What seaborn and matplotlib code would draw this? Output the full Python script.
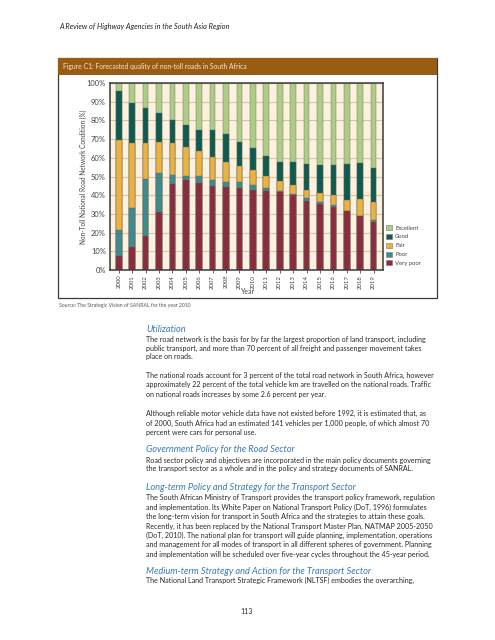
import numpy as np
import pandas as pd
import matplotlib
matplotlib.use("Agg")
import matplotlib.pyplot as plt
import seaborn as sns
from matplotlib.patches import Rectangle, Patch

# ---------------- data ----------------
years = [str(y) for y in range(2000, 2020)]
very_poor = [7.5, 12.5, 18.4, 30.9, 46.1, 48.2, 46.6, 45.0, 44.5, 43.9,
             42.9, 42.1, 41.8, 40.2, 37.0, 35.5, 33.8, 31.4, 28.9, 25.7]
poor = [13.8, 20.7, 30.0, 20.9, 4.6, 2.2, 3.9, 3.2, 2.6, 3.1,
        2.5, 1.8, 0.5, 0.5, 1.6, 1.1, 1.0, 0.2, 0.2, 1.3]
fair = [48.4, 34.7, 19.5, 16.8, 17.2, 15.5, 13.4, 12.3, 10.9, 8.4,
        8.0, 6.5, 5.2, 5.0, 4.4, 4.8, 5.2, 6.1, 8.8, 9.4]
good = [26.1, 21.6, 18.7, 15.2, 12.3, 11.6, 11.1, 14.5, 14.7, 13.2,
        12.1, 10.3, 10.5, 11.8, 13.8, 14.5, 16.1, 19.1, 19.2, 17.9]
excellent = [4.2, 10.5, 13.4, 16.2, 19.8, 22.5, 25.0, 25.0, 27.3, 31.4,
             34.5, 39.3, 42.0, 42.5, 43.2, 44.1, 43.9, 43.2, 42.9, 45.7]
categories = ["Very poor", "Poor", "Fair", "Good", "Excellent"]
y_ticks = [0, 10, 20, 30, 40, 50, 60, 70, 80, 90, 100]
y_tick_labels = [f"{v}%" for v in y_ticks]

colors = {"Very poor": "#8C2B3B", "Poor": "#3F8A8B", "Fair": "#ECB23E",
          "Good": "#0F5B4F", "Excellent": "#AFCC86"}

df = pd.DataFrame({"Year": years, "Very poor": very_poor, "Poor": poor,
                   "Fair": fair, "Good": good, "Excellent": excellent})
cum = df[categories].cumsum(axis=1)

# ---------------- figure ----------------
W, H = 495, 640
sns.set_theme(style="white")
plt.rcParams["font.family"] = ["Lato", "DejaVu Sans"]
fig = plt.figure(figsize=(W / 100, H / 100), dpi=100)
fig.patch.set_facecolor("white")
renderer = fig.canvas.get_renderer()


def fx(x):
    return x / W


def fy(y):
    return 1 - y / H


def fit_size(s, target_px, **kw):
    t = fig.text(0, 0, s, fontsize=10, **kw)
    w = t.get_window_extent(renderer).width
    t.remove()
    return 10 * target_px / w


# figure frame and title bar
fig.add_artist(Rectangle((fx(58), fy(298)), (437 - 58) / W, (298 - 58) / H,
                         transform=fig.transFigure, fill=False,
                         edgecolor="#3a3a3a", lw=0.9))
fig.add_artist(Rectangle((fx(58), fy(75)), (437 - 58) / W, 17 / H,
                         transform=fig.transFigure, facecolor="#9A5B13",
                         edgecolor="none"))

title = "Figure C1: Forecasted quality of non-toll roads in South Africa"
fig.text(fx(63), fy(66.5), title, color="#F6E8CC",
         fontsize=fit_size(title, 184), va="center", ha="left")

header = "A Review of Highway Agencies in the South Asia Region"
fig.text(fx(59), fy(26), header, color="#222222", style="italic",
         fontsize=fit_size(header, 169, style="italic"), va="center", ha="left")

# ---------------- chart ----------------
ax = fig.add_axes([fx(110), fy(270), 273 / W, 187 / H])
ax.set_facecolor("#FBF1DE")
for cat in reversed(categories):
    sns.barplot(x=df["Year"], y=cum[cat], color=colors[cat], saturation=1,
                width=0.42, edgecolor="#666666", linewidth=0.3, ax=ax)

ax.set_ylim(0, 100)
ax.set_xlim(-0.65, 19.7)
ax.set_axisbelow(True)
ax.yaxis.grid(True, color="#D8C6A0", lw=0.8)
ax.set_yticks(y_ticks)
ax.set_yticklabels(y_tick_labels)
for sp in ax.spines.values():
    sp.set_visible(True)
    sp.set_color("#3a3a3a")
    sp.set_linewidth(1.1)

ytick_fs = fit_size("100%", 19)
ax.tick_params(axis="y", length=0, pad=3, labelsize=ytick_fs, labelcolor="#444444")
xtick_fs = fit_size("2000", 14)
ax.tick_params(axis="x", rotation=90, labelsize=xtick_fs, length=2, width=0.6,
               pad=1.5, labelcolor="#444444", color="#444444", bottom=True)

ylab = "Non-Toll National Road Network Condition (%)"
ax.set_ylabel(ylab, fontsize=fit_size(ylab, 136), color="#444444")
ax.yaxis.set_label_coords((83 - 110) / 273, 0.5)
ax.yaxis.label.set_va("center")
ax.set_xlabel("Year", fontsize=fit_size("Year", 14), color="#444444")
ax.xaxis.set_label_coords((248 - 110) / 273, -(292 - 270) / 187)
ax.xaxis.label.set_va("center")

handles = [Patch(facecolor=colors[c], edgecolor="#777777", linewidth=0.4)
           for c in reversed(categories)]
leg_fs = fit_size("Very poor", 26)
fig.legend(handles, list(reversed(categories)), loc="center left",
           bbox_to_anchor=(fx(386), fy(245.5)), frameon=False, fontsize=leg_fs,
           handlelength=0.95, handleheight=0.95, handletextpad=0.6,
           labelspacing=0.55, borderpad=0, borderaxespad=0,
           labelcolor="#444444")

source = "Source: The Strategic Vision of SANRAL for the year 2010"
fig.text(fx(59), fy(306), source, color="#555555",
         fontsize=fit_size(source, 132), va="center", ha="left")

# ---------------- body text ----------------
body_fs = fit_size("The South African Ministry of Transport provides the transport policy framework, regulation", 288)
head_fs = fit_size("Government Policy for the Road Sector", 150, style="italic")
blue = "#3B7AB3"
body = [
    ("h", 329, "Utilization"),
    ("b", 339, "The road network is the basis for by far the largest proportion of land transport, including"),
    ("b", 348, "public transport, and more than 70 percent of all freight and passenger movement takes"),
    ("b", 357, "place on roads."),
    ("b", 375, "The national roads account for 3 percent of the total road network in South Africa, however"),
    ("b", 385, "approximately 22 percent of the total vehicle km are travelled on the national roads. Traffic"),
    ("b", 394, "on national roads increases by some 2.6 percent per year."),
    ("b", 413, "Although reliable motor vehicle data have not existed before 1992, it is estimated that, as"),
    ("b", 423, "of 2000, South Africa had an estimated 141 vehicles per 1,000 people, of which almost 70"),
    ("b", 432, "percent were cars for personal use."),
    ("h", 450, "Government Policy for the Road Sector"),
    ("b", 460, "Road sector policy and objectives are incorporated in the main policy documents governing"),
    ("b", 469, "the transport sector as a whole and in the policy and strategy documents of SANRAL."),
    ("h", 487, "Long-term Policy and Strategy for the Transport Sector"),
    ("b", 497, "The South African Ministry of Transport provides the transport policy framework, regulation"),
    ("b", 507, "and implementation. Its White Paper on National Transport Policy (DoT, 1996) formulates"),
    ("b", 516, "the long-term vision for transport in South Africa and the strategies to attain these goals."),
    ("b", 526, "Recently, it has been replaced by the National Transport Master Plan, NATMAP 2005-2050"),
    ("b", 535, "(DoT, 2010). The national plan for transport will guide planning, implementation, operations"),
    ("b", 544, "and management for all modes of transport in all different spheres of government. Planning"),
    ("b", 554, "and implementation will be scheduled over five-year cycles throughout the 45-year period."),
    ("h", 571, "Medium-term Strategy and Action for the Transport Sector"),
    ("b", 580, "The National Land Transport Strategic Framework (NLTSF) embodies the overarching,"),
]
for kind, y, s in body:
    if kind == "h":
        fig.text(fx(146), fy(y), s, color=blue, style="italic", fontsize=head_fs,
                 va="center", ha="left")
    else:
        fig.text(fx(146), fy(y), s, color="#2a2a2a", fontsize=body_fs,
                 va="center", ha="left")

fig.text(fx(247), fy(611), "113", color="#2a2a2a", fontsize=body_fs,
         va="center", ha="center")

fig.savefig("out.png", dpi=100)
